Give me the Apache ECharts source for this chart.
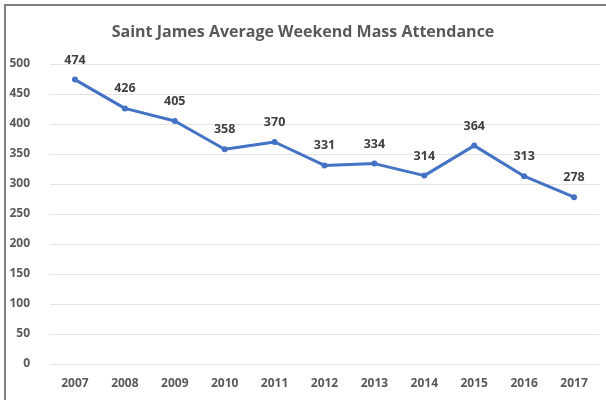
<!DOCTYPE html>
<html><head><meta charset="utf-8">
<script src="https://cdn.jsdelivr.net/npm/echarts@6/dist/echarts.min.js"></script>
<style>html,body{margin:0;padding:0;background:#fff}#c{width:606px;height:400px}</style>
</head><body><div id="c"></div>
<script>
const years = ['2007','2008','2009','2010','2011','2012','2013','2014','2015','2016','2017'];
const attendance = [474,426,405,358,370,331,334,314,364,313,278];
const yTicks = {min:0, max:500, interval:50};
const titleText = 'Saint James Average Weekend Mass Attendance';

const chart = echarts.init(document.getElementById('c'), null, {renderer:'canvas'});
chart.setOption({
  backgroundColor:'#fff',
  animation:false,
  title:{text:titleText, left:'center', top:19,
    textStyle:{fontFamily:'Open Sans', fontSize:16, fontWeight:700, color:'#595959'}},
  graphic:[{type:'polyline', shape:{points:[[5,400],[5,5],[606,5]]},
    style:{stroke:'#7f7f7f', lineWidth:2, fill:null}}],
  grid:{left:50, right:7, top:64, bottom:36},
  xAxis:{type:'category', data:years, boundaryGap:true,
    axisLine:{show:false}, axisTick:{show:false},
    axisLabel:{fontFamily:'Open Sans', fontSize:12, fontWeight:700, color:'#595959', margin:14}},
  yAxis:{type:'value', min:yTicks.min, max:yTicks.max, interval:yTicks.interval,
    axisLine:{show:false}, axisTick:{show:false},
    splitLine:{lineStyle:{color:'#e3e3e3', width:1}},
    axisLabel:{fontFamily:'Open Sans', fontSize:12, fontWeight:700, color:'#595959', margin:20}},
  series:[{type:'line', data:attendance, symbol:'circle', symbolSize:6,
    lineStyle:{color:'#4472C4', width:3}, itemStyle:{color:'#4472C4'},
    label:{show:true, position:'top', distance:10, fontFamily:'Open Sans', fontSize:12.5, fontWeight:700, color:'#404040'}}]
});
</script></body></html>
